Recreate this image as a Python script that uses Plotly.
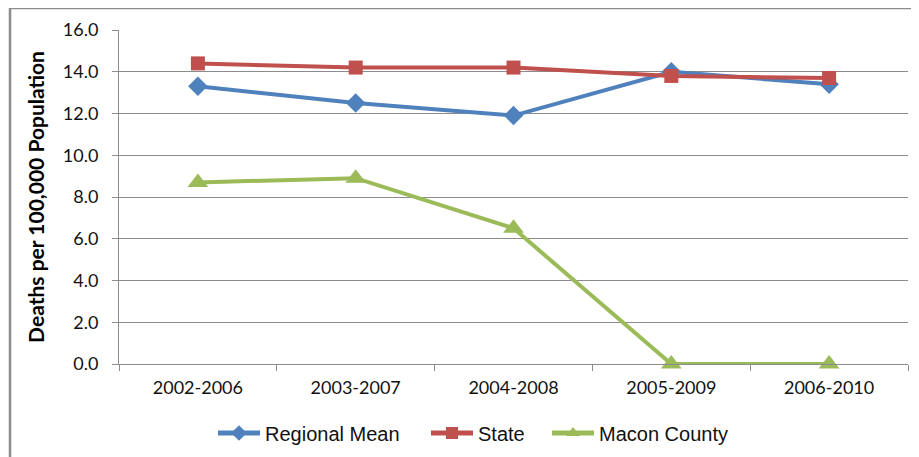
import plotly.graph_objects as go

periods = ["2002-2006", "2003-2007", "2004-2008", "2005-2009", "2006-2010"]
regional_mean = [13.3, 12.5, 11.9, 14.0, 13.4]
state = [14.4, 14.2, 14.2, 13.8, 13.7]
macon_county = [8.7, 8.9, 6.5, 0.0, 0.0]

# page is offset by the body margin (8px), so work in figure coordinates
OFF = 8
W, H = 919 - OFF, 457 - OFF
L, R, T, B = 119 - OFF, 11, 30 - OFF, 93
pw, ph = W - L - R, H - T - B

def px_x(x):
    return (x - OFF - L) / pw

def px_y(y):
    return (H - B - (y - OFF)) / ph

series = [
    ("Regional Mean", regional_mean, "#4F81BD", "diamond", 15, "legend", 213),
    ("State", state, "#C0504D", "square", 14, "legend2", 426),
    ("Macon County", macon_county, "#9BBB59", "triangle-up", 18, "legend3", 547),
]

fig = go.Figure()
legend_layout = {}
for name, vals, color, sym, size, leg, lx in series:
    fig.add_trace(go.Scatter(
        x=periods, y=vals, name=name, mode="lines+markers",
        line=dict(color=color, width=4),
        marker=dict(symbol=sym, size=size, color=color, line=dict(width=0)),
        cliponaxis=False, legend=leg,
    ))
    legend_layout[leg] = dict(
        orientation="h", x=px_x(lx), xanchor="left",
        y=px_y(433), yanchor="middle", bgcolor="rgba(0,0,0,0)",
        font=dict(family="Liberation Sans, Arial", size=20, color="#111"),
        itemwidth=42, itemsizing="constant",
    )

fig.add_shape(type="path", xref="paper", yref="paper",
              path=f"M {px_x(10)} {px_y(480)} L {px_x(10)} {px_y(8)} L {px_x(940)} {px_y(8)}",
              line=dict(color="#8c8c8c", width=2.5), layer="below")

fig.update_layout(
    width=W, height=H,
    margin=dict(l=L, r=R, t=T, b=B, autoexpand=False),
    paper_bgcolor="white", plot_bgcolor="white",
    showlegend=True,
    xaxis=dict(
        type="category", range=[-0.5, 4.5],
        showgrid=False, showline=True, linecolor="#8c8c8c", linewidth=1,
        ticks="outside", tickson="boundaries", ticklen=6, tickcolor="#8c8c8c",
        ticklabelstandoff=7,
        tickfont=dict(family="Lato", size=18, color="#111"),
        automargin=False, fixedrange=True,
    ),
    yaxis=dict(
        range=[0, 16], dtick=2, tickformat=".1f",
        showgrid=True, gridcolor="#8c8c8c", gridwidth=1,
        showline=True, linecolor="#8c8c8c", linewidth=1,
        ticks="outside", ticklen=6, tickcolor="#8c8c8c",
        ticklabelstandoff=10,
        tickfont=dict(family="Lato", size=18, color="#111"),
        title=dict(text="<b>Deaths per 100,000 Population</b>", standoff=12,
                   font=dict(family="Lato", size=21, color="#000")),
        zeroline=False, automargin=False, fixedrange=True,
    ),
    **legend_layout,
)

fig.write_html("out.html")
